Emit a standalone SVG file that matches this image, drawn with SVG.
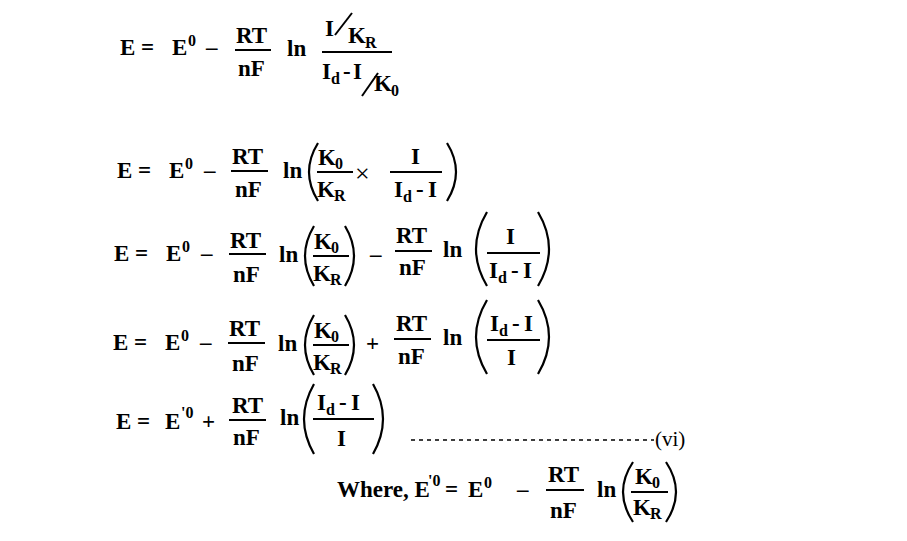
<svg xmlns="http://www.w3.org/2000/svg" width="907" height="541" viewBox="0 0 907 541">
<style>
text{font-family:"Liberation Serif","Times New Roman",serif;font-weight:bold;font-size:23px;fill:#000}
.s{font-size:16px}
.n{font-weight:normal;font-size:21px}
.l{stroke:#000;stroke-width:2;fill:none}
.p{stroke:#000;stroke-width:2.2;fill:none}
</style>
<rect width="907" height="541" fill="#fff"/>
<!-- Eq1 -->
<text x="120" y="55">E =</text><text x="172" y="55">E</text><text class="s" x="188" y="46">0</text><text x="206" y="55">–</text>
<text x="236" y="43">RT</text><line class="l" x1="235" y1="50" x2="271" y2="50"/><text x="238" y="76">nF</text>
<text x="287" y="56">ln</text>
<text x="325" y="36">I</text><line class="l" x1="335" y1="35" x2="352" y2="13"/><text x="348" y="43">K</text><text class="s" x="365" y="48">R</text>
<line class="l" x1="322" y1="52" x2="392" y2="52"/>
<text x="322" y="79">I</text><text class="s" x="331" y="84">d</text><text x="343" y="79">-</text><text x="353" y="79">I</text><line class="l" x1="362" y1="96" x2="378" y2="73"/><text x="374" y="91">K</text><text class="s" x="391" y="96">0</text>
<!-- Eq2 -->
<text x="117" y="178">E =</text><text x="169" y="178">E</text><text class="s" x="185" y="169">0</text><text x="204" y="178">–</text>
<text x="232" y="164">RT</text><line class="l" x1="231" y1="171" x2="268" y2="171"/><text x="235" y="197">nF</text>
<text x="283" y="178">ln</text>
<path class="p" d="M318 143 Q300 172 318 201"/>
<text x="318" y="165">K</text><text class="s" x="335" y="169">0</text><line class="l" x1="317" y1="172" x2="353" y2="172"/><text x="317" y="197">K</text><text class="s" x="334" y="201">R</text>
<text x="355" y="182" class="n" style="font-size:26px">×</text>
<text x="411" y="164">I</text><line class="l" x1="390" y1="172" x2="442" y2="172"/><text x="394" y="197">I</text><text class="s" x="403" y="202">d</text><text x="416" y="197">-</text><text x="428" y="197">I</text>
<path class="p" d="M447 143 Q465 172 447 201"/>
<!-- Eq3 -->
<text x="114" y="261">E =</text><text x="166" y="261">E</text><text class="s" x="182" y="252">0</text><text x="201" y="261">–</text>
<text x="230" y="248">RT</text><line class="l" x1="229" y1="254" x2="266" y2="254"/><text x="233" y="282">nF</text>
<text x="279" y="262">ln</text>
<path class="p" d="M314 226 Q296 256 314 286"/>
<text x="314" y="249">K</text><text class="s" x="331" y="253">0</text><line class="l" x1="313" y1="256" x2="349" y2="256"/><text x="313" y="281">K</text><text class="s" x="330" y="285">R</text>
<path class="p" d="M345 226 Q363 256 345 286"/>
<text x="370" y="262">–</text>
<text x="396" y="243">RT</text><line class="l" x1="395" y1="251" x2="432" y2="251"/><text x="399" y="275">nF</text>
<text x="443" y="257">ln</text>
<path class="p" d="M487 212 Q465 249 487 286"/>
<text x="506" y="244">I</text><line class="l" x1="487" y1="253" x2="540" y2="253"/><text x="489" y="278">I</text><text class="s" x="498" y="283">d</text><text x="511" y="278">-</text><text x="523" y="278">I</text>
<path class="p" d="M538 212 Q560 249 538 286"/>
<!-- Eq4 -->
<text x="113" y="350">E =</text><text x="165" y="350">E</text><text class="s" x="181" y="341">0</text><text x="200" y="350">–</text>
<text x="229" y="336">RT</text><line class="l" x1="228" y1="343" x2="265" y2="343"/><text x="232" y="371">nF</text>
<text x="278" y="351">ln</text>
<path class="p" d="M314 315 Q296 345 314 375"/>
<text x="314" y="338">K</text><text class="s" x="331" y="342">0</text><line class="l" x1="313" y1="345" x2="349" y2="345"/><text x="313" y="370">K</text><text class="s" x="330" y="374">R</text>
<path class="p" d="M345 315 Q363 345 345 375"/>
<text x="366" y="351">+</text>
<text x="396" y="331">RT</text><line class="l" x1="394" y1="339" x2="431" y2="339"/><text x="398" y="364">nF</text>
<text x="443" y="345">ln</text>
<path class="p" d="M487 300 Q465 337 487 374"/>
<text x="490" y="331">I</text><text class="s" x="499" y="336">d</text><text x="512" y="331">-</text><text x="524" y="331">I</text><line class="l" x1="487" y1="340" x2="540" y2="340"/><text x="507" y="365">I</text>
<path class="p" d="M538 300 Q560 337 538 374"/>
<!-- Eq5 -->
<text x="116" y="429">E =</text><text x="165" y="429">E</text><text class="s" x="181" y="418">'0</text><text x="202" y="429">+</text>
<text x="232" y="413">RT</text><line class="l" x1="229" y1="420" x2="266" y2="420"/><text x="233" y="445">nF</text>
<text x="280" y="425">ln</text>
<path class="p" d="M314 384 Q294 419 314 454"/>
<text x="317" y="410">I</text><text class="s" x="326" y="415">d</text><text x="339" y="410">-</text><text x="351" y="410">I</text><line class="l" x1="313" y1="419" x2="374" y2="419"/><text x="337" y="446">I</text>
<path class="p" d="M373 384 Q393 419 373 454"/>
<line x1="411" y1="440" x2="654" y2="440" stroke="#000" stroke-width="1.6" stroke-dasharray="4,4"/>
<text class="n" x="655" y="446">(vi)</text>
<!-- Where -->
<text x="337" y="497">Where, E</text><text class="s" x="428" y="486">'0</text><text x="445" y="497">=</text><text x="468" y="497">E</text><text class="s" x="484" y="488">0</text><text x="517" y="497">–</text>
<text x="548" y="482">RT</text><line class="l" x1="546" y1="490" x2="584" y2="490"/><text x="550" y="518">nF</text>
<text x="597" y="497">ln</text>
<path class="p" d="M633 462 Q613 492 633 522"/>
<text x="635" y="484">K</text><text class="s" x="652" y="488">0</text><line class="l" x1="631" y1="492" x2="668" y2="492"/><text x="633" y="515">K</text><text class="s" x="650" y="519">R</text>
<path class="p" d="M666 462 Q686 492 666 522"/>
</svg>
